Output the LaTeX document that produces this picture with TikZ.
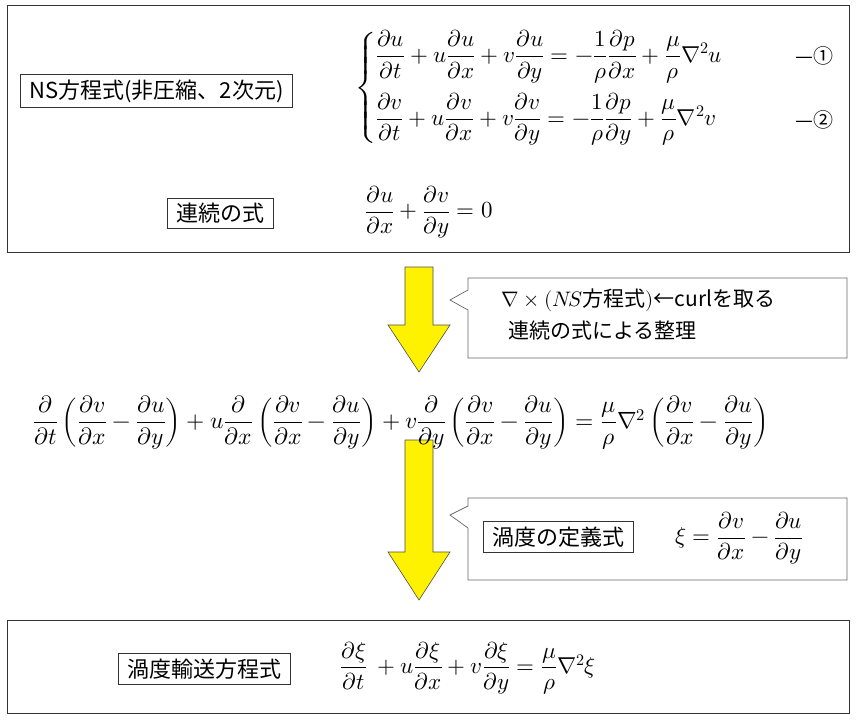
\documentclass[tikz,border=0pt]{standalone}
\usepackage{amsmath}
\usepackage{fontspec}
\usepackage{unicode-math}
\setmainfont{Noto Sans CJK JP}
\setmathfont{Latin Modern Math}
\newfontfamily\jp{Noto Sans CJK JP}
\usetikzlibrary{shapes.arrows}
\begin{document}
\begin{tikzpicture}[x=1pt,y=-1pt,
  frame/.style={draw=black!80,line width=0.8pt},
  lbl/.style={draw=black!80,line width=0.7pt,font=\fontsize{22}{26}\selectfont\jp,inner xsep=9pt,inner ysep=5pt},
  eq/.style={font=\fontsize{23}{28}\selectfont,inner sep=0pt},
  yarrow/.style={fill=yellow,draw=black!70,line width=0.6pt},
  callout/.style={draw=black!60,line width=0.7pt,fill=white}]
\useasboundingbox (0,0) rectangle (858,720);
% top box
\draw[frame] (7,5) rectangle (849,252);
\node[lbl,anchor=west] (ns) at (20,91) {NS方程式(非圧縮、2次元)};
\node[eq,anchor=west] (nseq) at (355,88) {$\left\{\begin{aligned}
&\frac{\partial u}{\partial t}+u\frac{\partial u}{\partial x}+v\frac{\partial u}{\partial y}=-\frac{1}{\rho}\frac{\partial p}{\partial x}+\frac{\mu}{\rho}\nabla^2 u\\[6pt]
&\frac{\partial v}{\partial t}+u\frac{\partial v}{\partial x}+v\frac{\partial v}{\partial y}=-\frac{1}{\rho}\frac{\partial p}{\partial y}+\frac{\mu}{\rho}\nabla^2 v
\end{aligned}\right.$};
\node[font=\fontsize{20}{24}\selectfont\jp,anchor=west,inner sep=0pt] (c1) at (795,56) {—①};
\node[font=\fontsize{20}{24}\selectfont\jp,anchor=west,inner sep=0pt] (c2) at (795,120) {—②};
\node[lbl] (cont) at (220,213) {連続の式};
\node[eq,anchor=west] (conteq) at (365,212) {$\dfrac{\partial u}{\partial x}+\dfrac{\partial v}{\partial y}=0$};
% arrow 1
\draw[yarrow] (405,267) -- (433,267) -- (433,325) -- (450,325) -- (419,372) -- (388,325) -- (405,325) -- cycle;
\draw[callout] (468,278) -- (847,278) -- (847,358) -- (468,358) -- (468,310) -- (450,300) -- (468,290) -- cycle;
\node[anchor=west,font=\fontsize{21}{25}\selectfont\jp] (t1) at (498,300) {$\nabla\times(N\!S$方程式$)$←curlを取る};
\node[anchor=west,font=\fontsize{21}{25}\selectfont\jp] (t2) at (505,331) {連続の式による整理};
% arrow 2
\draw[yarrow] (405,440) -- (433,440) -- (433,552) -- (450,552) -- (419,600) -- (388,552) -- (405,552) -- cycle;
% middle equation
\node[eq,anchor=west,font=\fontsize{23.5}{28}\selectfont] (mid) at (33,423) {$\dfrac{\partial}{\partial t}\left(\dfrac{\partial v}{\partial x}-\dfrac{\partial u}{\partial y}\right)+u\dfrac{\partial}{\partial x}\left(\dfrac{\partial v}{\partial x}-\dfrac{\partial u}{\partial y}\right)+v\dfrac{\partial}{\partial y}\left(\dfrac{\partial v}{\partial x}-\dfrac{\partial u}{\partial y}\right)=\dfrac{\mu}{\rho}\nabla^2\left(\dfrac{\partial v}{\partial x}-\dfrac{\partial u}{\partial y}\right)$};
\draw[callout] (468,498) -- (847,498) -- (847,580) -- (468,580) -- (468,528) -- (450,515) -- (468,506) -- cycle;
\node[lbl,anchor=west] (vdef) at (483,537) {渦度の定義式};
\node[eq,anchor=west] (xieq) at (675,538) {$\xi=\dfrac{\partial v}{\partial x}-\dfrac{\partial u}{\partial y}$};
% bottom box
\draw[frame] (7,620) rectangle (849,713);
\node[lbl] (vt) at (204,669) {渦度輸送方程式};
\node[eq,anchor=west] (vteq) at (340,668) {$\dfrac{\partial\xi}{\partial t}\ +u\dfrac{\partial\xi}{\partial x}+v\dfrac{\partial\xi}{\partial y}=\dfrac{\mu}{\rho}\nabla^2\xi$};
\end{tikzpicture}
\end{document}
